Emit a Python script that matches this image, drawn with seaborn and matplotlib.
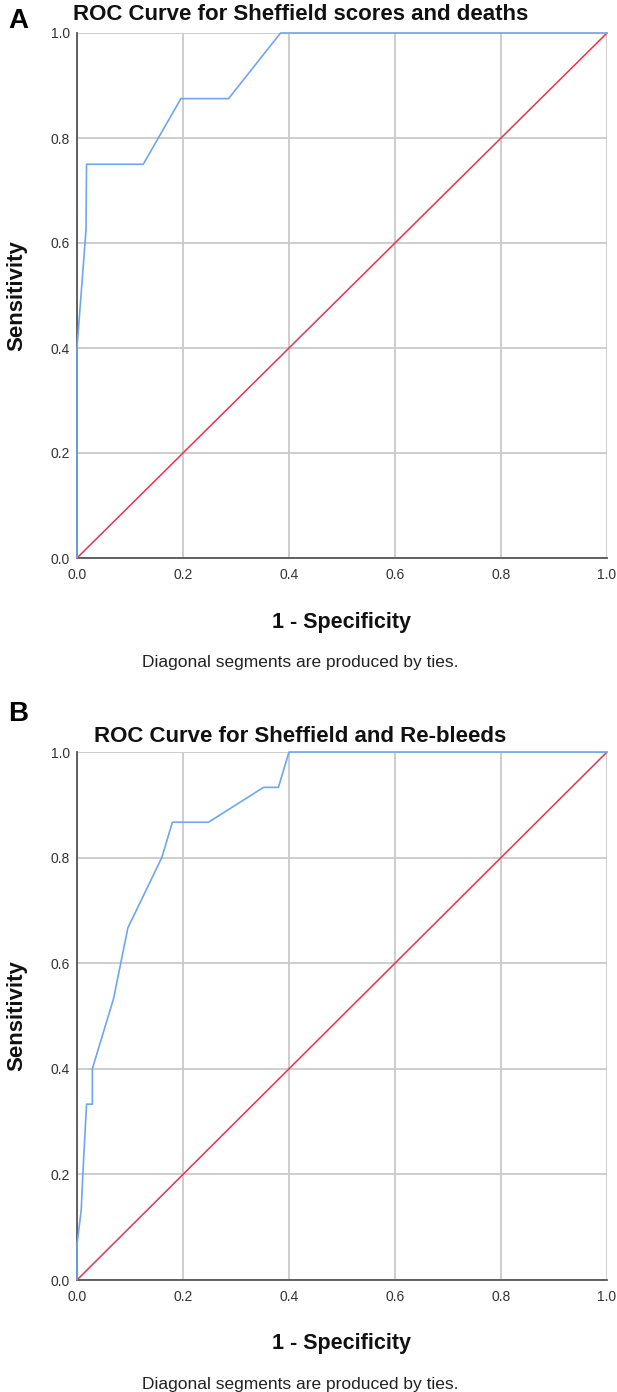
import matplotlib
matplotlib.use("Agg")
import matplotlib.pyplot as plt
import numpy as np
import pandas as pd
import seaborn as sns

# ROC curve points
fpr_a = [0.0, 0.0, 0.017, 0.018, 0.125, 0.196, 0.286, 0.384, 1.0]
tpr_a = [0.0, 0.4, 0.625, 0.75, 0.75, 0.875, 0.875, 1.0, 1.0]

fpr_b = [0.0, 0.0, 0.008, 0.011, 0.018, 0.029, 0.029, 0.069, 0.096, 0.16, 0.18, 0.248, 0.352, 0.38, 0.4, 1.0]
tpr_b = [0.0, 0.067, 0.133, 0.2, 0.333, 0.333, 0.4, 0.533, 0.667, 0.8, 0.867, 0.867, 0.933, 0.933, 1.0, 1.0]

ref_line = [0.0, 1.0]
ticks = [0.0, 0.2, 0.4, 0.6, 0.8, 1.0]

titles = ["ROC Curve for Sheffield scores and deaths", "ROC Curve for Sheffield and Re-bleeds"]
panel_labels = ["A", "B"]
footnote = "Diagonal segments are produced by ties."

sns.set_style("white")
plt.rcParams["font.family"] = ["Liberation Sans", "DejaVu Sans"]

W, H = 617, 1392
fig = plt.figure(figsize=(W / 100, H / 100), dpi=100)


def fx(px):
    return px / W


def fy(py):
    return 1 - py / H


def draw_panel(ax, fpr, tpr):
    df = pd.DataFrame({"fpr": fpr, "tpr": tpr})
    diag = pd.DataFrame({"x": ref_line, "y": ref_line})
    ax.grid(True, color="#cdcdcd", linewidth=1.4)
    ax.set_axisbelow(True)
    sns.lineplot(data=diag, x="x", y="y", ax=ax, color="#e8324f",
                 linewidth=1.1, sort=False, estimator=None)
    sns.lineplot(data=df, x="fpr", y="tpr", ax=ax, color="#6fa6ee",
                 linewidth=1.2, sort=False, estimator=None)
    for ln in ax.get_lines():
        if ln.get_xdata() is not None and len(ln.get_xdata()) > 0:
            ln.set_clip_on(False)
            ln.set_zorder(4)
    ax.set_xlim(0, 1)
    ax.set_ylim(0, 1)
    ax.set_xticks(ticks)
    ax.set_yticks(ticks)
    ax.set_xticklabels([f"{t:.1f}" for t in ticks])
    ax.set_yticklabels([f"{t:.1f}" for t in ticks])
    ax.tick_params(axis="x", length=0, labelsize=10, colors="#333333", pad=7)
    ax.tick_params(axis="y", length=0, labelsize=10, colors="#333333", pad=5)
    ax.set_xlabel("")
    ax.set_ylabel("")
    for side in ["top", "right"]:
        ax.spines[side].set_visible(False)
    for side in ["left", "bottom"]:
        ax.spines[side].set_color("#555555")
        ax.spines[side].set_linewidth(1.3)
        ax.spines[side].set_zorder(3)


# panel geometry in pixels: (top, bottom) of axes
panels = [(33, 558), (752, 1280)]
title_pos = [(73, 15), (94, 737)]
label_pos = [(8, 21), (8, 714)]
x_left, x_right = 77, 607

datasets = [(fpr_a, tpr_a), (fpr_b, tpr_b)]

for i, ((top, bottom), (fpr, tpr)) in enumerate(zip(panels, datasets)):
    ax = fig.add_axes([fx(x_left), fy(bottom), fx(x_right - x_left), (bottom - top) / H])
    draw_panel(ax, fpr, tpr)
    tx, ty = title_pos[i]
    fig.text(fx(tx), fy(ty), titles[i], fontsize=16, fontweight="bold",
             ha="left", va="center", color="#111111")
    lx, ly = label_pos[i]
    fig.text(fx(lx), fy(ly), panel_labels[i], fontsize=20, fontweight="bold",
             ha="left", va="center", color="black")
    fig.text(fx(17), fy((top + bottom) / 2), "Sensitivity", rotation=90,
             fontsize=16, fontweight="bold", ha="center", va="center", color="#111111")
    fig.text(fx((x_left + x_right) / 2), fy(bottom + 64), "1 - Specificity",
             fontsize=15.5, fontweight="bold", ha="center", va="center", color="#111111")
    fig.text(fx(300), fy(bottom + 104), footnote, fontsize=12.5,
             ha="center", va="center", color="#222222")

fig.savefig("out.png", dpi=100)
